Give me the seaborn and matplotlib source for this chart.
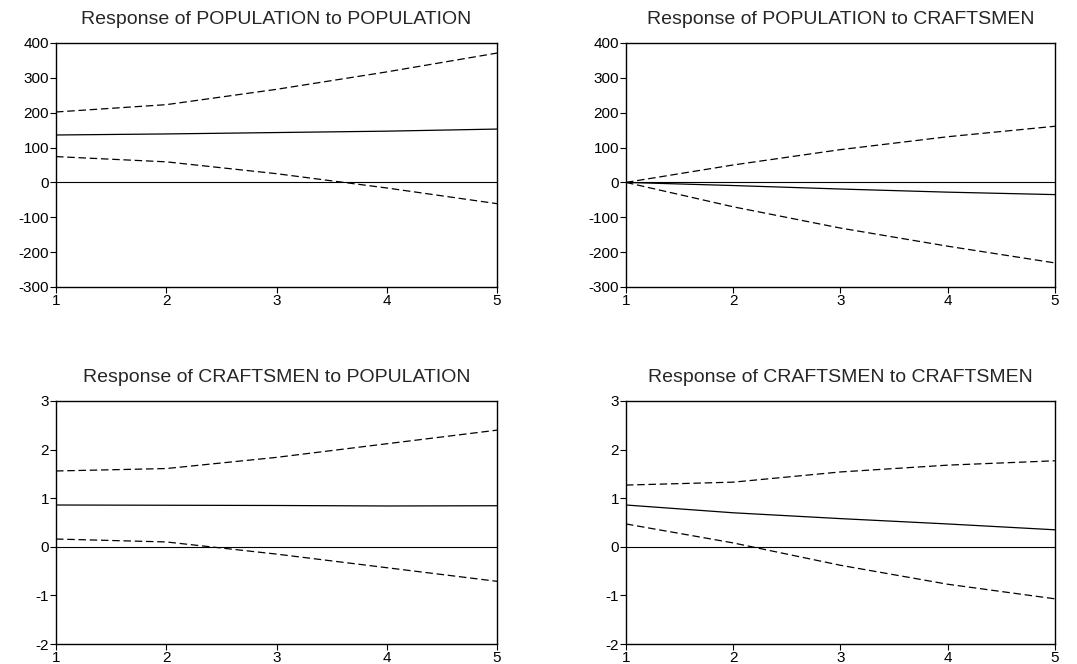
import numpy as np
import pandas as pd
import matplotlib
matplotlib.use("Agg")
import matplotlib.pyplot as plt
import seaborn as sns

periods = [1, 2, 3, 4, 5]

# Response of POPULATION to POPULATION
pop_pop = [136, 139, 143, 147, 153]
pop_pop_up = [202, 223, 267, 317, 371]
pop_pop_lo = [74, 59, 25, -16, -61]

# Response of POPULATION to CRAFTSMEN
pop_cra = [0, -9, -19, -28, -35]
pop_cra_up = [0, 50, 94, 131, 161]
pop_cra_lo = [0, -70, -131, -183, -231]

# Response of CRAFTSMEN to POPULATION
cra_pop = [0.86, 0.855, 0.85, 0.84, 0.845]
cra_pop_up = [1.56, 1.61, 1.84, 2.12, 2.40]
cra_pop_lo = [0.16, 0.10, -0.15, -0.43, -0.71]

# Response of CRAFTSMEN to CRAFTSMEN
cra_cra = [0.86, 0.70, 0.58, 0.47, 0.35]
cra_cra_up = [1.27, 1.33, 1.54, 1.68, 1.77]
cra_cra_lo = [0.47, 0.08, -0.38, -0.77, -1.07]

titles = ["Response of POPULATION to POPULATION",
          "Response of POPULATION to CRAFTSMEN",
          "Response of CRAFTSMEN to POPULATION",
          "Response of CRAFTSMEN to CRAFTSMEN"]
panels = [(pop_pop, pop_pop_up, pop_pop_lo),
          (pop_cra, pop_cra_up, pop_cra_lo),
          (cra_pop, cra_pop_up, cra_pop_lo),
          (cra_cra, cra_cra_up, cra_cra_lo)]
ylims = [(-300, 400), (-300, 400), (-2, 3), (-2, 3)]
yticks = [list(range(-300, 401, 100)), list(range(-300, 401, 100)),
          list(range(-2, 4)), list(range(-2, 4))]

sns.set_style("ticks")
plt.rcParams['font.family'] = ['Liberation Sans', 'DejaVu Sans']
plt.rcParams['axes.unicode_minus'] = False

fig = plt.figure(figsize=(10.77, 6.64), dpi=100)
boxes = [[0.052, 0.5678, 0.4095, 0.3675],
         [0.5812, 0.5678, 0.3983, 0.3675],
         [0.052, 0.0301, 0.4095, 0.366],
         [0.5812, 0.0301, 0.3983, 0.366]]

for i in range(4):
    ax = fig.add_axes(boxes[i])
    resp, up, lo = panels[i]
    df = pd.DataFrame({
        "period": periods * 3,
        "value": resp + up + lo,
        "band": ["response"] * 5 + ["upper"] * 5 + ["lower"] * 5,
    })
    ax.axhline(0, color="black", lw=0.8)
    sns.lineplot(data=df, x="period", y="value", style="band",
                 dashes={"response": "", "upper": (6, 3), "lower": (6, 3)},
                 color="black", lw=0.9, estimator=None, legend=False, ax=ax)
    ax.set_xlim(1, 5)
    ax.set_ylim(*ylims[i])
    ax.set_xticks(periods)
    ax.set_yticks(yticks[i])
    ax.set_xlabel("")
    ax.set_ylabel("")
    ax.set_title(titles[i], fontsize=14, pad=14)
    for s in ax.spines.values():
        s.set_visible(True)
        s.set_color("black")
        s.set_linewidth(1.0)
    ax.tick_params(axis="both", direction="out", length=4, width=0.8,
                   labelsize=11, pad=1, colors="black")

fig.savefig("out.png", dpi=100)
